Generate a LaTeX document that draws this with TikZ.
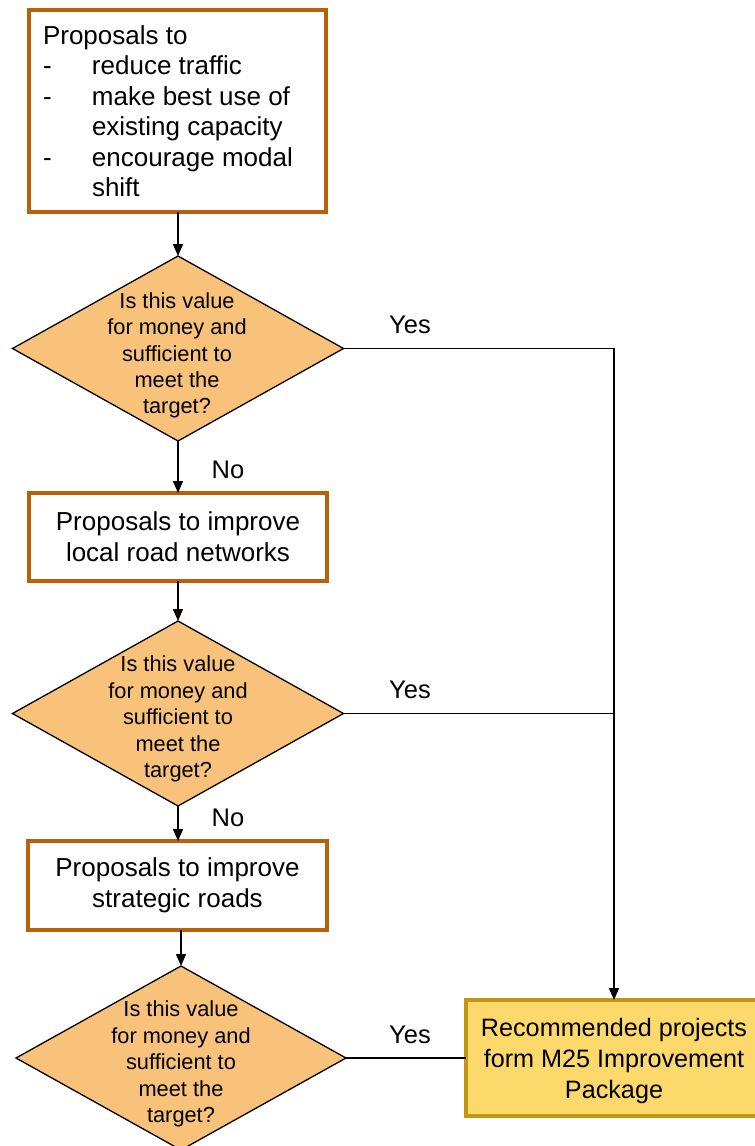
\documentclass[tikz,border=0pt]{standalone}
\usepackage{fontspec}
\setmainfont{Liberation Sans}
\usetikzlibrary{shapes.geometric,arrows.meta}
\definecolor{boxbrown}{RGB}{185,96,10}
\definecolor{diafill}{RGB}{249,194,122}
\definecolor{finfill}{RGB}{252,217,106}
\definecolor{finborder}{RGB}{196,150,16}
\begin{document}
\begin{tikzpicture}[x=1pt,y=-1pt,
  pbox/.style={draw=boxbrown, line width=4pt, fill=white, rectangle, inner sep=0pt, outer sep=0pt, align=center, font=\fontsize{26}{31}\selectfont},
  finbox/.style={pbox, draw=finborder, fill=finfill},
  btext/.style={inner sep=0pt, outer sep=0pt, font=\fontsize{26}{30.5}\selectfont},
  ftext/.style={inner sep=0pt, outer sep=0pt, align=center, font=\fontsize{25.2}{31}\selectfont},
  dia/.style={diamond, draw=black, line width=1.3pt, fill=diafill, inner sep=0pt, outer sep=0pt},
  dtext/.style={align=center, inner sep=0pt, font=\fontsize{21.8}{26.4}\selectfont},
  lbl/.style={inner sep=0pt, font=\fontsize{25.5}{30}\selectfont},
  conn/.style={line width=1.5pt, draw=black},
  arr/.style={conn, -{Triangle[length=12pt,width=10pt]}},
]
\useasboundingbox (0,0) rectangle (755,1146);
\clip (0,0) rectangle (755,1146);

% boxes
\node[pbox, minimum width=297pt, minimum height=202pt] (b1) at (177.5,111) {};
\node[btext, anchor=west] (b1t) at (43,114.5) {\begin{tabular}{@{}p{49pt}@{}l@{}}
\multicolumn{2}{@{}l@{}}{Proposals to}\\
-&reduce traffic\\
-&make best use of\\
&existing capacity\\
-&encourage modal\\
&shift
\end{tabular}};

\node[dia, minimum width=331pt, minimum height=185pt] (d1) at (178,348.5) {};
\node[dtext] (d1t) at (177,355.5) {Is this value\\for money and\\sufficient to\\meet the\\target?};

\node[pbox, minimum width=298pt, minimum height=88pt] (b2) at (178,537) {Proposals to improve\\local road networks};

\node[dia, minimum width=331pt, minimum height=185pt] (d2) at (178,713.5) {};
\node[dtext] (d2t) at (178,719) {Is this value\\for money and\\sufficient to\\meet the\\target?};

\node[pbox, minimum width=299pt, minimum height=89pt] (b3) at (177.5,885.5) {Proposals to improve\\strategic roads};

\node[dia, minimum width=330pt, minimum height=184pt] (d3) at (181,1058) {};
\node[dtext] (d3t) at (181,1064) {Is this value\\for money and\\sufficient to\\meet the\\target?};

\node[finbox, minimum width=296pt, minimum height=116pt] (fin) at (614,1058) {};
\node[ftext] (fint) at (614,1060.5) {Recommended projects\\form M25 Improvement\\Package};

% labels
\node[lbl] (y1) at (410,325) {Yes};
\node[lbl] (y2) at (410,690) {Yes};
\node[lbl] (y3) at (410,1035) {Yes};
\node[lbl] (n1) at (228,470) {No};
\node[lbl] (n2) at (228,818) {No};

% connectors
\draw[arr] (b1.south -| d1.north) -- (d1.north);
\draw[arr] (d1.south) -- (b2.north -| d1.south);
\draw[arr] (b2.south) -- (d2.north);
\draw[arr] (d2.south) -- (b3.north -| d2.south);
\draw[arr] (b3.south -| d3.north) -- (d3.north);
\draw[arr] (d1.east) -| (fin.north);
\draw[conn] (d2.east) -- (d2.east -| fin.north);
\draw[conn] (d3.east) -- (fin.west);
\end{tikzpicture}
\end{document}
